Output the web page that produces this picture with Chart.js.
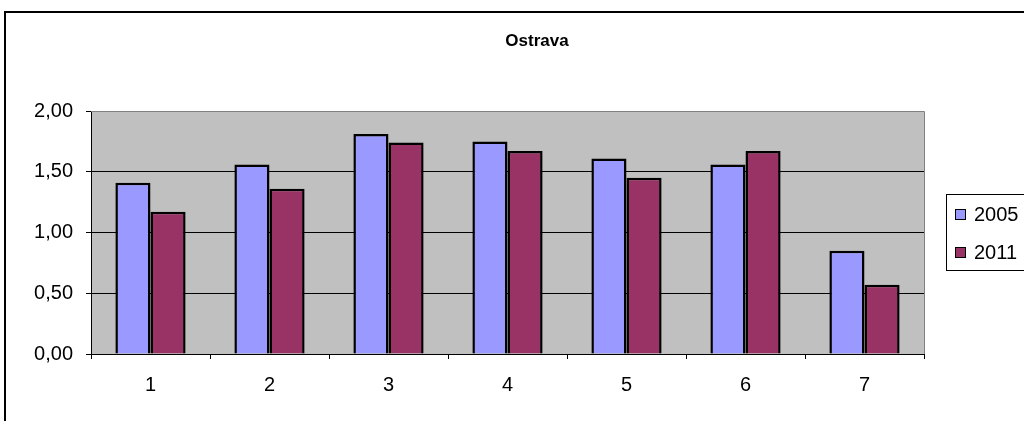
<!DOCTYPE html>
<html>
<head>
<meta charset="utf-8">
<title>Ostrava</title>
<script src="https://cdn.jsdelivr.net/npm/chart.js@4/dist/chart.umd.min.js"></script>
<style>
  body { margin: 0; background: #fff; }
  canvas { display: block; }
</style>
</head>
<body>
<canvas id="graphCanvas" width="1024" height="421"></canvas>
<script>
// data
var categories = ['1', '2', '3', '4', '5', '6', '7'];
var seriesNames = ['2005', '2011'];
var values2005 = [1.41, 1.56, 1.81, 1.75, 1.61, 1.56, 0.85];
var values2011 = [1.17, 1.36, 1.74, 1.67, 1.45, 1.67, 0.57];
var yTicks = [0, 0.5, 1, 1.5, 2];
var chartTitle = 'Ostrava';

var fontFamily = 'Arial, "Liberation Sans", sans-serif';

// gray plot area, outer frame, title, excel-like legend box
var excelLook = {
  id: 'excelLook',
  beforeDraw: function(chart) {
    var c = chart.ctx;
    var a = chart.chartArea;
    c.save();
    c.fillStyle = '#fff';
    c.fillRect(0, 0, chart.width, chart.height);
    c.fillStyle = '#c0c0c0';
    c.fillRect(a.left, a.top, a.right - a.left, a.bottom - a.top);
    c.restore();
  },
  afterDraw: function(chart) {
    var c = chart.ctx;
    var a = chart.chartArea;
    c.save();
    // plot border (top / right)
    c.strokeStyle = '#808080';
    c.lineWidth = 1;
    c.beginPath();
    c.moveTo(a.left, a.top + 0.5);
    c.lineTo(a.right + 0.5, a.top + 0.5);
    c.lineTo(a.right + 0.5, a.bottom);
    c.stroke();

    // outer chart frame
    c.strokeStyle = '#000';
    c.lineWidth = 2;
    c.beginPath();
    c.moveTo(5, chart.height);
    c.lineTo(5, 12);
    c.lineTo(chart.width, 12);
    c.stroke();

    // title
    c.fillStyle = '#000';
    c.font = 'bold 17px ' + fontFamily;
    c.textAlign = 'center';
    c.textBaseline = 'middle';
    c.fillText(chartTitle, 537, 41);

    // legend
    c.lineWidth = 1;
    c.strokeRect(946.5, 194.5, 90, 76);
    c.font = '20px ' + fontFamily;
    c.textAlign = 'left';
    var ys = [214, 252];
    chart.data.datasets.forEach(function(ds, i) {
      c.fillStyle = ds.backgroundColor;
      c.fillRect(955, ys[i] - 5, 10, 10);
      c.strokeStyle = '#000';
      c.strokeRect(955.5, ys[i] - 4.5, 10, 10);
      c.fillStyle = '#000';
      c.fillText(ds.label, 974, ys[i] + 1);
    });
    c.restore();
  }
};

var ctx = document.getElementById('graphCanvas');

var data = {
  labels: categories,
  datasets: [
    {
      label: seriesNames[0],
      data: values2005,
      backgroundColor: '#9999ff',
      borderColor: '#000',
      borderWidth: 2.5,
      categoryPercentage: 0.59,
      barPercentage: 1
    },
    {
      label: seriesNames[1],
      data: values2011,
      backgroundColor: '#993366',
      borderColor: '#000',
      borderWidth: 2.5,
      categoryPercentage: 0.59,
      barPercentage: 1
    }
  ]
};

var options = {
  responsive: false,
  animation: false,
  layout: {
    padding: { top: 111, right: 100, bottom: 0, left: 0 }
  },
  plugins: {
    legend: { display: false },
    tooltip: { enabled: false },
    title: { display: false }
  },
  scales: {
    x: {
      afterFit: function(scale) { scale.height = 67; },
      grid: {
        offset: true,
        drawOnChartArea: false,
        color: '#000',
        tickLength: 5
      },
      border: { color: '#000', width: 1 },
      ticks: {
        color: '#000',
        padding: 14,
        font: { family: fontFamily, size: 20 }
      }
    },
    y: {
      min: 0,
      max: 2,
      afterFit: function(scale) { scale.width = 91; },
      afterBuildTicks: function(scale) {
        scale.ticks = yTicks.map(function(v) { return { value: v }; });
      },
      grid: {
        color: function(c) { return c.tick && c.tick.value === 2 ? '#808080' : '#000'; },
        tickColor: '#000',
        tickLength: 5
      },
      border: { color: '#000', width: 1 },
      ticks: {
        color: '#000',
        padding: 13,
        font: { family: fontFamily, size: 20 },
        callback: function(v) { return v.toFixed(2).replace('.', ','); }
      }
    }
  }
};

var chart = new Chart(ctx, {
  type: 'bar',
  data: data,
  options: options,
  plugins: [excelLook]
});
</script>
</body>
</html>
